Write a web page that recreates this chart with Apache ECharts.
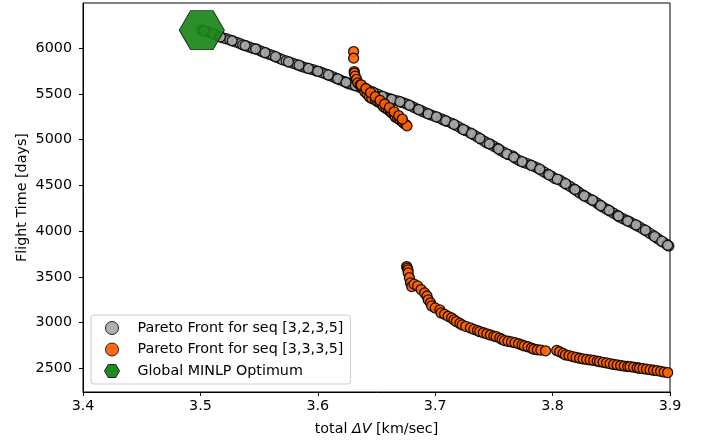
<!DOCTYPE html>
<html><head><meta charset="utf-8">
<script src="https://cdn.jsdelivr.net/npm/echarts@6/dist/echarts.min.js"></script>
<style>html,body{margin:0;padding:0;background:#fff}#c{width:704px;height:443px}</style>
</head><body><div id="c"></div>
<script>
const xTicks = [3.4, 3.5, 3.6, 3.7, 3.8, 3.9];
const yTicks = [2500, 3000, 3500, 4000, 4500, 5000, 5500, 6000];
const seriesNames = ['Pareto Front for seq [3,2,3,5]', 'Pareto Front for seq [3,3,3,5]', 'Global MINLP Optimum'];

const front3235 = [
[3.501,6198],[3.505,6185],[3.509,6170],[3.513,6145],[3.516,6128],[3.519,6114],[3.522,6104],[3.525,6092],[3.528,6078],[3.531,6065],
[3.534,6050],[3.536,6037],[3.539,6026],[3.542,6012],[3.545,5998],[3.548,5990],[3.551,5972],[3.553,5961],[3.556,5948],[3.559,5932],
[3.562,5918],[3.565,5902],[3.568,5886],[3.570,5873],[3.573,5862],[3.576,5848],[3.579,5835],[3.582,5822],[3.585,5808],[3.587,5797],
[3.590,5786],[3.593,5775],[3.596,5766],[3.599,5752],[3.602,5742],[3.604,5731],[3.607,5718],[3.610,5702],[3.613,5688],[3.616,5670],
[3.619,5654],[3.622,5638],[3.625,5620],[3.627,5610],[3.630,5598],[3.633,5588],[3.636,5572],[3.639,5560],[3.642,5545],[3.645,5530],
[3.648,5512],[3.651,5498],[3.654,5480],[3.656,5468],[3.659,5456],[3.662,5445],[3.665,5432],[3.668,5425],[3.671,5410],[3.673,5403],
[3.676,5388],[3.679,5370],[3.682,5352],[3.685,5335],[3.688,5318],[3.690,5304],[3.693,5290],[3.696,5272],[3.699,5258],[3.702,5245],
[3.705,5228],[3.707,5216],[3.710,5200],[3.714,5180],[3.717,5160],[3.720,5140],[3.723,5118],[3.726,5098],[3.730,5074],[3.733,5052],
[3.736,5030],[3.739,5005],[3.742,4982],[3.744,4964],[3.747,4950],[3.750,4928],[3.753,4905],[3.756,4880],[3.759,4858],[3.762,4838],
[3.766,4822],[3.769,4790],[3.772,4770],[3.775,4752],[3.778,4740],[3.781,4725],[3.784,4708],[3.787,4691],[3.790,4668],[3.793,4645],
[3.796,4622],[3.799,4602],[3.802,4575],[3.806,4560],[3.809,4535],[3.812,4510],[3.815,4488],[3.818,4462],[3.821,4438],[3.823,4418],
[3.826,4395],[3.829,4372],[3.832,4350],[3.835,4330],[3.838,4305],[3.840,4287],[3.843,4262],[3.846,4240],[3.849,4218],[3.852,4195],
[3.855,4172],[3.857,4155],[3.860,4135],[3.863,4118],[3.866,4100],[3.869,4080],[3.872,4060],[3.874,4046],[3.877,4022],[3.880,4000],
[3.883,3975],[3.886,3950],[3.889,3922],[3.891,3904],[3.894,3880],[3.897,3856],[3.899,3838],
[3.503,6190],[3.511,6160],[3.517,6125],[3.527,6082],[3.538,6030],[3.547,5992],[3.555,5952],[3.564,5908],[3.575,5852],[3.584,5815],
[3.592,5779],[3.600,5748],[3.609,5708],[3.617,5666],[3.624,5628],[3.632,5592],[3.640,5553],[3.647,5520],[3.655,5474],[3.663,5440],
[3.670,5416],[3.678,5377],[3.686,5328],[3.694,5283],[3.701,5250],[3.709,5207],[3.716,5168],[3.724,5110],[3.731,5067],[3.738,5015],
[3.746,4955],[3.754,4898],[3.761,4845],[3.767,4808],[3.774,4760],[3.782,4718],[3.789,4678],[3.797,4615],[3.804,4568],[3.811,4520],
[3.819,4455],[3.827,4385],[3.834,4338],[3.841,4278],[3.848,4228],[3.856,4165],[3.864,4110],[3.871,4068],[3.879,4010],[3.887,3940],
[3.893,3890],[3.898,3845]
];

const front3335 = [
[3.6305,5964],[3.6305,5892],[3.631,5745],[3.6312,5727],[3.6318,5695],[3.633,5660],[3.634,5621],[3.636,5598],[3.638,5566],[3.640,5545],
[3.640,5523],[3.642,5500],[3.644,5468],[3.646,5450],[3.649,5435],[3.651,5415],[3.653,5403],[3.655,5380],[3.656,5359],[3.658,5345],
[3.660,5326],[3.662,5305],[3.663,5293],[3.665,5270],[3.666,5249],[3.668,5235],[3.670,5216],[3.672,5200],[3.673,5183],[3.675,5165],
[3.676,5151],
[3.637,5600],[3.641,5560],[3.645,5515],[3.649,5470],[3.653,5430],[3.657,5390],[3.661,5350],[3.665,5305],[3.669,5262],[3.672,5225],
[3.6757,3612],[3.6762,3595],[3.6768,3575],[3.677,3543],[3.678,3490],[3.679,3433],[3.680,3393],[3.682,3420],[3.685,3400],[3.688,3360],
[3.691,3324],[3.693,3290],[3.694,3248],[3.696,3215],[3.697,3182],[3.700,3160],[3.704,3138],[3.705,3105],[3.708,3090],[3.711,3068],
[3.714,3050],[3.716,3030],[3.718,3010],[3.721,2990],[3.723,2974],[3.726,2958],[3.730,2941],[3.733,2925],[3.736,2912],[3.738,2900],
[3.741,2888],[3.744,2876],[3.747,2864],[3.750,2852],[3.752,2845],[3.755,2830],[3.757,2815],[3.759,2802],[3.762,2795],[3.765,2788],
[3.768,2780],[3.771,2768],[3.774,2755],[3.776,2744],[3.779,2735],[3.782,2720],[3.784,2708],[3.787,2702],[3.790,2698],[3.794,2690],
[3.8035,2695],[3.806,2680],[3.809,2662],[3.811,2646],[3.814,2638],[3.817,2628],[3.820,2618],[3.823,2609],[3.826,2602],[3.829,2596],
[3.832,2591],[3.835,2585],[3.838,2578],[3.840,2572],[3.843,2565],[3.846,2558],[3.849,2550],[3.852,2542],[3.855,2536],[3.858,2530],
[3.861,2524],[3.864,2519],[3.866,2518],[3.869,2512],[3.872,2505],[3.874,2500],[3.877,2496],[3.880,2490],[3.883,2484],[3.886,2478],
[3.889,2474],[3.892,2466],[3.895,2458],[3.898,2452]
];

const globalOptimum = [[3.5012, 6198]];

const FONT = 'DejaVu Sans';
const FS = 14.3;
const HEX = 'path://M0,8.66L5,0L15,0L20,8.66L15,17.32L5,17.32Z';
const chart = echarts.init(document.getElementById('c'), null, {renderer: 'canvas'});
chart.setOption({
  animation: false,
  backgroundColor: '#fff',
  textStyle: {fontFamily: FONT},
  grid: {left: 83, right: 34, top: 3, bottom: 51, show: true, borderColor: '#000', borderWidth: 1, backgroundColor: 'transparent'},
  xAxis: {
    type: 'value', min: 3.4, max: 3.9,
    name: 'total {i|ΔV} [km/sec]', nameLocation: 'middle', nameGap: 30,
    nameTextStyle: {color: '#000', fontSize: FS, fontFamily: FONT,
      rich: {i: {fontStyle: 'italic', fontSize: FS, fontFamily: FONT, color: '#000'}}},
    axisLine: {show: true, lineStyle: {color: '#000', width: 1}},
    axisTick: {show: true, length: 4, lineStyle: {color: '#000'}, customValues: xTicks},
    axisLabel: {color: '#000', fontSize: FS, fontFamily: FONT, margin: 7, customValues: xTicks,
      formatter: v => v.toFixed(1)},
    splitLine: {show: false}
  },
  yAxis: {
    type: 'value', min: 2240, max: 6495,
    name: 'Flight Time [days]', nameLocation: 'middle', nameGap: 54, nameMoveOverlap: false,
    nameTextStyle: {color: '#000', fontSize: FS, fontFamily: FONT},
    axisLine: {show: true, lineStyle: {color: '#000', width: 1}},
    axisTick: {show: true, length: 4, lineStyle: {color: '#000'}, customValues: yTicks},
    axisLabel: {color: '#000', fontSize: FS, fontFamily: FONT, margin: 11, customValues: yTicks,
      formatter: v => String(Math.round(v))},
    splitLine: {show: false}
  },
  legend: {
    orient: 'vertical', left: 91, top: 315,
    padding: [6, 7, 6, 13],
    itemWidth: 41, itemHeight: 13, itemGap: 7.5,
    backgroundColor: 'rgba(255,255,255,0.8)', borderColor: '#ccc', borderWidth: 1, borderRadius: 3,
    textStyle: {color: '#000', fontSize: FS, fontFamily: FONT, lineHeight: 14},
    data: [
      {name: seriesNames[0], icon: 'circle', itemStyle: {color: '#b0b0b0', borderColor: '#222', borderWidth: 1, opacity: 1}},
      {name: seriesNames[1], icon: 'circle', itemStyle: {color: '#ff6a10', borderColor: '#222', borderWidth: 1, opacity: 1}},
      {name: seriesNames[2], icon: HEX, itemStyle: {color: '#1f8a1f', borderColor: '#222', borderWidth: 1, opacity: 1}}
    ]
  },
  series: [
    {name: seriesNames[0], type: 'scatter', data: front3235, symbol: 'circle', symbolSize: 10, z: 2,
      itemStyle: {color: '#a9a9a9', borderColor: '#000', borderWidth: 1.3, opacity: 0.85}},
    {name: seriesNames[1], type: 'scatter', data: front3335, symbol: 'circle', symbolSize: 10, z: 3,
      itemStyle: {color: '#ff6200', borderColor: '#000', borderWidth: 1.3, opacity: 0.9}},
    {name: seriesNames[2], type: 'scatter', data: globalOptimum, symbol: HEX, symbolSize: [45, 39], z: 4,
      itemStyle: {color: '#1a851a', borderColor: '#0a2a0a', borderWidth: 1, opacity: 0.92}}
  ]
});
</script></body></html>
